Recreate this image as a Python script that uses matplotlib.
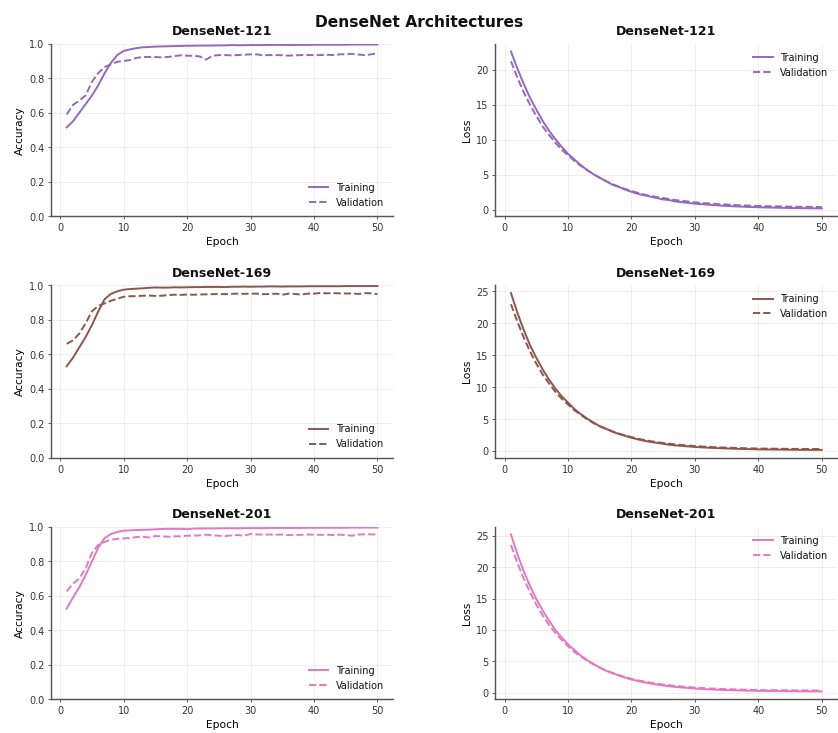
import matplotlib
matplotlib.use('Agg')
import matplotlib.pyplot as plt

epochs = list(range(1, 51))
models = ['DenseNet-121', 'DenseNet-169', 'DenseNet-201']
colors = ['#9467bd', '#8c564b', '#e377c2']

# Accuracy curves
acc_train_121 = [0.515, 0.55, 0.60, 0.65, 0.70, 0.76, 0.83, 0.89, 0.935, 0.958,
                 0.967, 0.974, 0.979, 0.981, 0.983, 0.984, 0.985, 0.986, 0.987, 0.988,
                 0.988, 0.989, 0.989, 0.989, 0.99, 0.99, 0.992, 0.991, 0.991, 0.992,
                 0.992, 0.992, 0.993, 0.993, 0.993, 0.992, 0.993, 0.993, 0.993, 0.994,
                 0.994, 0.994, 0.994, 0.994, 0.994, 0.995, 0.995, 0.995, 0.995, 0.995]
acc_val_121 = [0.59, 0.645, 0.67, 0.70, 0.78, 0.83, 0.865, 0.88, 0.895, 0.90,
               0.905, 0.918, 0.922, 0.923, 0.923, 0.92, 0.923, 0.928, 0.933, 0.93,
               0.93, 0.926, 0.908, 0.93, 0.934, 0.934, 0.932, 0.934, 0.936, 0.938,
               0.938, 0.932, 0.934, 0.934, 0.933, 0.931, 0.932, 0.934, 0.934, 0.934,
               0.934, 0.936, 0.934, 0.938, 0.939, 0.941, 0.937, 0.934, 0.938, 0.944]
acc_train_169 = [0.53, 0.58, 0.64, 0.70, 0.77, 0.85, 0.92, 0.95, 0.965, 0.974,
                 0.978, 0.98, 0.982, 0.985, 0.987, 0.986, 0.986, 0.988, 0.987, 0.988,
                 0.989, 0.989, 0.99, 0.99, 0.99, 0.989, 0.991, 0.991, 0.992, 0.991,
                 0.992, 0.992, 0.993, 0.993, 0.992, 0.993, 0.993, 0.993, 0.994, 0.994,
                 0.994, 0.994, 0.994, 0.994, 0.995, 0.995, 0.995, 0.995, 0.995, 0.995]
acc_val_169 = [0.66, 0.68, 0.72, 0.78, 0.85, 0.88, 0.895, 0.91, 0.922, 0.933,
               0.936, 0.937, 0.939, 0.94, 0.938, 0.939, 0.943, 0.945, 0.944, 0.946,
               0.945, 0.946, 0.947, 0.948, 0.949, 0.948, 0.95, 0.951, 0.95, 0.951,
               0.951, 0.948, 0.949, 0.951, 0.945, 0.951, 0.949, 0.946, 0.951, 0.951,
               0.955, 0.953, 0.954, 0.953, 0.952, 0.952, 0.949, 0.954, 0.953, 0.948]
acc_train_201 = [0.525, 0.59, 0.65, 0.72, 0.80, 0.88, 0.935, 0.958, 0.97, 0.977,
                 0.979, 0.981, 0.982, 0.983, 0.985, 0.987, 0.988, 0.988, 0.988, 0.986,
                 0.989, 0.99, 0.99, 0.99, 0.991, 0.991, 0.991, 0.991, 0.992, 0.992,
                 0.992, 0.992, 0.993, 0.993, 0.993, 0.993, 0.993, 0.993, 0.994, 0.994,
                 0.994, 0.994, 0.994, 0.994, 0.994, 0.995, 0.995, 0.995, 0.995, 0.995]
acc_val_201 = [0.625, 0.67, 0.70, 0.76, 0.85, 0.895, 0.912, 0.925, 0.93, 0.932,
               0.935, 0.94, 0.942, 0.938, 0.946, 0.945, 0.942, 0.944, 0.945, 0.948,
               0.948, 0.95, 0.954, 0.95, 0.948, 0.946, 0.95, 0.952, 0.948, 0.958,
               0.955, 0.955, 0.955, 0.954, 0.955, 0.952, 0.953, 0.953, 0.955, 0.954,
               0.953, 0.954, 0.952, 0.954, 0.952, 0.948, 0.955, 0.956, 0.956, 0.955]

# Loss curves
loss_train_121 = [22.6, 20.2, 18.0, 16.0, 14.3, 12.7, 11.3, 10.1, 9.0, 8.0,
                  7.2, 6.4, 5.7, 5.1, 4.6, 4.1, 3.6, 3.3, 2.9, 2.6,
                  2.3, 2.1, 1.9, 1.7, 1.5, 1.4, 1.2, 1.1, 1.0, 0.9,
                  0.83, 0.76, 0.69, 0.63, 0.58, 0.53, 0.49, 0.45, 0.42, 0.39,
                  0.36, 0.34, 0.32, 0.30, 0.28, 0.27, 0.26, 0.25, 0.24, 0.23]
loss_val_121 = [21.2, 18.9, 16.8, 15.0, 13.4, 11.9, 10.7, 9.6, 8.6, 7.8,
                7.0, 6.3, 5.7, 5.1, 4.6, 4.1, 3.7, 3.3, 3.0, 2.7,
                2.45, 2.2, 2.0, 1.85, 1.7, 1.55, 1.4, 1.3, 1.2, 1.1,
                1.0, 0.95, 0.88, 0.82, 0.77, 0.72, 0.68, 0.64, 0.61, 0.58,
                0.55, 0.53, 0.51, 0.49, 0.47, 0.46, 0.45, 0.44, 0.43, 0.42]
loss_train_169 = [24.75, 21.7, 19.0, 16.6, 14.6, 12.8, 11.2, 9.8, 8.6, 7.6,
                  6.6, 5.8, 5.1, 4.5, 3.9, 3.5, 3.05, 2.7, 2.4, 2.1,
                  1.85, 1.63, 1.45, 1.3, 1.15, 1.0, 0.9, 0.82, 0.74, 0.66,
                  0.6, 0.55, 0.5, 0.46, 0.42, 0.39, 0.36, 0.33, 0.31, 0.29,
                  0.27, 0.26, 0.25, 0.24, 0.23, 0.22, 0.21, 0.21, 0.2, 0.2]
loss_val_169 = [23.0, 20.3, 17.8, 15.6, 13.7, 12.0, 10.6, 9.3, 8.2, 7.3,
                6.4, 5.7, 5.0, 4.4, 3.9, 3.5, 3.1, 2.75, 2.45, 2.2,
                1.95, 1.75, 1.57, 1.42, 1.28, 1.16, 1.05, 0.96, 0.88, 0.8,
                0.74, 0.68, 0.63, 0.59, 0.55, 0.52, 0.49, 0.46, 0.44, 0.42,
                0.4, 0.39, 0.38, 0.37, 0.36, 0.35, 0.35, 0.34, 0.34, 0.33]
loss_train_201 = [25.2, 22.1, 19.4, 17.0, 14.9, 13.1, 11.5, 10.0, 8.8, 7.7,
                  6.8, 5.9, 5.2, 4.6, 4.0, 3.5, 3.1, 2.75, 2.4, 2.1,
                  1.87, 1.65, 1.46, 1.3, 1.15, 1.02, 0.91, 0.82, 0.74, 0.66,
                  0.6, 0.54, 0.49, 0.45, 0.41, 0.38, 0.35, 0.33, 0.31, 0.29,
                  0.27, 0.26, 0.25, 0.24, 0.23, 0.22, 0.21, 0.21, 0.2, 0.2]
loss_val_201 = [23.5, 20.7, 18.2, 16.0, 14.0, 12.3, 10.8, 9.5, 8.4, 7.4,
                6.5, 5.8, 5.1, 4.5, 4.0, 3.55, 3.15, 2.8, 2.5, 2.2,
                1.98, 1.78, 1.6, 1.44, 1.3, 1.18, 1.07, 0.97, 0.89, 0.81,
                0.75, 0.69, 0.64, 0.6, 0.56, 0.53, 0.5, 0.47, 0.45, 0.43,
                0.41, 0.4, 0.39, 0.38, 0.37, 0.36, 0.36, 0.35, 0.35, 0.34]

acc_train = [acc_train_121, acc_train_169, acc_train_201]
acc_val = [acc_val_121, acc_val_169, acc_val_201]
loss_train = [loss_train_121, loss_train_169, loss_train_201]
loss_val = [loss_val_121, loss_val_169, loss_val_201]

plt.rcParams['text.color'] = '#111111'
plt.rcParams['xtick.color'] = '#333333'
plt.rcParams['ytick.color'] = '#333333'

fig, axes = plt.subplots(3, 2, figsize=(12, 10.5))
fig.subplots_adjust(left=0.061, right=0.999, bottom=0.046, top=0.940,
                    wspace=0.30, hspace=0.40)


def style(ax):
    ax.spines['top'].set_visible(False)
    ax.spines['right'].set_visible(False)
    for s in ['left', 'bottom']:
        ax.spines[s].set_linewidth(1.5)
        ax.spines[s].set_color('#555555')
    ax.grid(True, alpha=0.25)
    ax.tick_params(labelsize=10)


for i, name in enumerate(models):
    c = colors[i]
    ax = axes[i, 0]
    ax.plot(epochs, acc_train[i], color=c, linewidth=2, label='Training')
    ax.plot(epochs, acc_val[i], color=c, linewidth=2, linestyle='--', label='Validation')
    ax.set_ylim(0, 1)
    ax.set_title(name, fontsize=13, fontweight='bold', pad=9)
    ax.set_xlabel('Epoch', fontsize=11)
    ax.set_ylabel('Accuracy', fontsize=11)
    ax.legend(loc='lower right', frameon=False, fontsize=10)
    style(ax)

    ax = axes[i, 1]
    ax.plot(epochs, loss_train[i], color=c, linewidth=2, label='Training')
    ax.plot(epochs, loss_val[i], color=c, linewidth=2, linestyle='--', label='Validation')
    ax.set_title(name, fontsize=13, fontweight='bold', pad=9)
    ax.set_xlabel('Epoch', fontsize=11)
    ax.set_ylabel('Loss', fontsize=11)
    ax.legend(loc='upper right', frameon=False, fontsize=10)
    style(ax)

fig.suptitle('DenseNet Architectures', fontsize=16, fontweight='bold', y=0.980)
fig.savefig('out.png', dpi=69.84)
